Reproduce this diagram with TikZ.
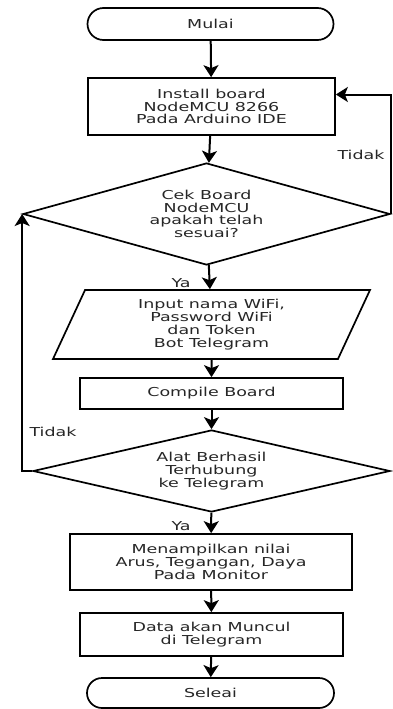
\documentclass[tikz,border=0pt]{standalone}
\usepackage{fontspec}
\setmainfont{DejaVu Sans}[FakeStretch=1.42]
\usetikzlibrary{shapes.geometric,shapes.misc,arrows.meta}

\begin{document}
\begin{tikzpicture}[x=1pt,y=-1pt]
\tikzset{node style/.style={draw=black, line width=1.7pt, inner sep=0pt, align=center,
            text=black!85, font=\fontsize{12.3}{12.8}\selectfont},
         box style/.style={node style, shape=rectangle},
         end style/.style={node style, shape=rounded rectangle},
         ask style/.style={node style, shape=diamond, aspect=3.6},
         io style/.style={node style, shape=trapezium, trapezium left angle=57.5,
            trapezium right angle=122.5, trapezium stretches body},
         label style/.style={font=\fontsize{12.3}{12.8}\selectfont, text=black!85}}

\useasboundingbox (0, 0) rectangle (392, 709);

\node[end style, minimum width=246pt, minimum height=32pt] at (210.5, 24)  (mulai)   {Mulai};
\node[box style, minimum width=247pt, minimum height=57pt] at (211.5, 106.5) (install) {Install board\\NodeMCU 8266\\Pada Arduino IDE};
\node[ask style, minimum width=367pt, minimum height=102pt] at (206.5, 214) (cek)     {Cek Board\\NodeMCU\\apakah telah\\sesuai?};
\node[io style, minimum width=317pt, minimum height=69pt]  at (211.5, 324.5) (input) {Input nama WiFi,\\Password WiFi\\dan Token\\Bot Telegram};
\node[box style, minimum width=263pt, minimum height=31pt] at (211.5, 393.5) (compile) {Compile Board};
\node[ask style, minimum width=357pt, minimum height=82pt] at (211.5, 471)   (alat)    {Alat Berhasil\\Terhubung\\ke Telegram};
\node[box style, minimum width=282pt, minimum height=56pt] at (211, 562)     (tampil)  {Menampilkan nilai\\Arus, Tegangan, Daya\\Pada Monitor};
\node[box style, minimum width=263pt, minimum height=43pt] at (211.5, 634.5) (data)    {Data akan Muncul\\di Telegram};
\node[end style, minimum width=247pt, minimum height=30pt] at (210.5, 693)   (seleai)  {Seleai};

\node[label style] at (361, 155) (tidak1) {Tidak};
\node[label style] at (53, 432)  (tidak2) {Tidak};
\node[label style] at (181, 283) (ya1)    {Ya};
\node[label style] at (181, 526) (ya2)    {Ya};

\draw[line width=2pt, -{Stealth[length=12pt, width=15pt, inset=3pt]}]
            (mulai)   edge (install)
            (install) edge (cek)
            (cek)     edge (input)
            (input)   edge (compile)
            (compile) edge (alat)
            (alat)    edge (tampil)
            (tampil)  edge (data)
            (data)    edge (seleai)
            (cek.east) |- ([yshift=12pt]install.east)
;
\draw[line width=2pt, -{Stealth[length=12pt, width=15pt, inset=3pt]}]
            (alat.west) -| (cek.west);
\end{tikzpicture}
\end{document}
